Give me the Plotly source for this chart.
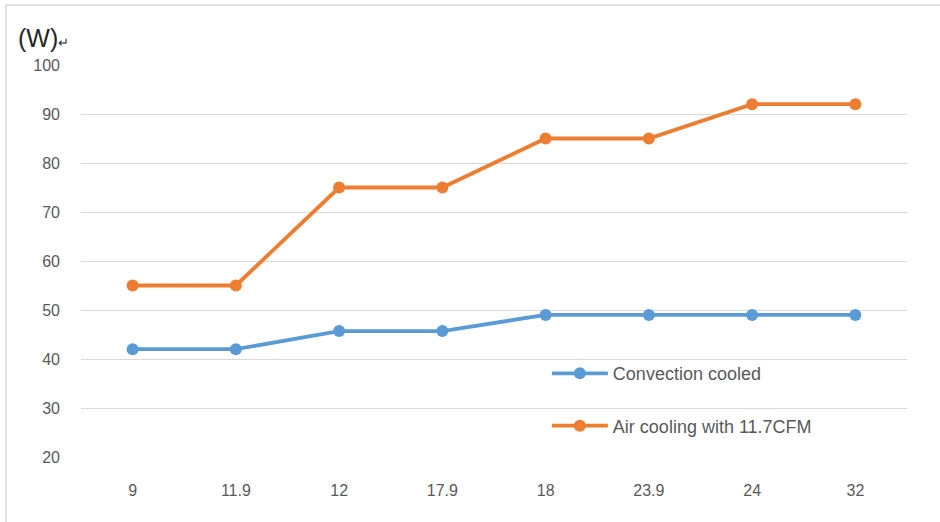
import plotly.graph_objects as go

categories = ["9", "11.9", "12", "17.9", "18", "23.9", "24", "32"]
convection = [42, 42, 45.7, 45.7, 49, 49, 49, 49]
air_cooling = [55, 55, 75, 75, 85, 85, 92, 92]
y_ticks = [20, 30, 40, 50, 60, 70, 80, 90, 100]

fig = go.Figure()
fig.add_trace(go.Scatter(
    x=categories, y=convection, mode="lines+markers", name="Convection cooled",
    line=dict(color="#5B9BD5", width=3.8), marker=dict(size=12, color="#5B9BD5"),
    legendgroup="a"))
fig.add_trace(go.Scatter(
    x=categories, y=air_cooling, mode="lines+markers", name="Air cooling with 11.7CFM",
    line=dict(color="#ED7D31", width=3.8), marker=dict(size=12, color="#ED7D31"),
    legendgroup="b"))

font_family = "Liberation Sans Narrow, Liberation Sans, Arial, sans-serif"

fig.update_layout(
    width=940, height=522,
    margin=dict(l=81, r=33, t=65, b=65, autoexpand=False),
    paper_bgcolor="white", plot_bgcolor="white",
    font=dict(family=font_family, color="#595959", size=15),
    showlegend=True,
    legend=dict(x=0.564, y=0.26, xanchor="left", yanchor="top",
                traceorder="grouped", tracegroupgap=26, itemwidth=56,
                font=dict(size=18, color="#595959", family="Liberation Sans, Arial, sans-serif"),
                bgcolor="rgba(0,0,0,0)"),
    xaxis=dict(type="category", range=[-0.5, len(categories) - 0.5],
               showgrid=False, showline=False, zeroline=False,
               ticks="", tickfont=dict(size=16), ticklabelstandoff=22),
    yaxis=dict(range=[20, 100], tickvals=y_ticks, showgrid=True, gridcolor="#D9D9D9",
               gridwidth=1.3, showline=False, zeroline=False, ticks="",
               tickfont=dict(size=16), ticklabelstandoff=20),
    annotations=[
        dict(text="(W)<span style='font-size:13px'>↵</span>",
             x=(16 - 81) / 826, y=(457 - 38) / 392,
             xref="paper", yref="paper", showarrow=False, xanchor="left", yanchor="middle",
             font=dict(size=25, color="#262626", family="Liberation Sans, Arial, sans-serif")),
    ],
    shapes=[
        dict(type="rect", xref="paper", yref="paper",
             x0=(6 - 81) / 826, x1=1.2, y0=-0.3, y1=(457 - 5) / 392,
             line=dict(color="#D9D9D9", width=1.5), fillcolor="rgba(0,0,0,0)", layer="below"),
    ],
)

fig.write_html("out.html", config={"displayModeBar": False},
               post_script="document.body.style.margin='0';document.body.style.padding='0';")
